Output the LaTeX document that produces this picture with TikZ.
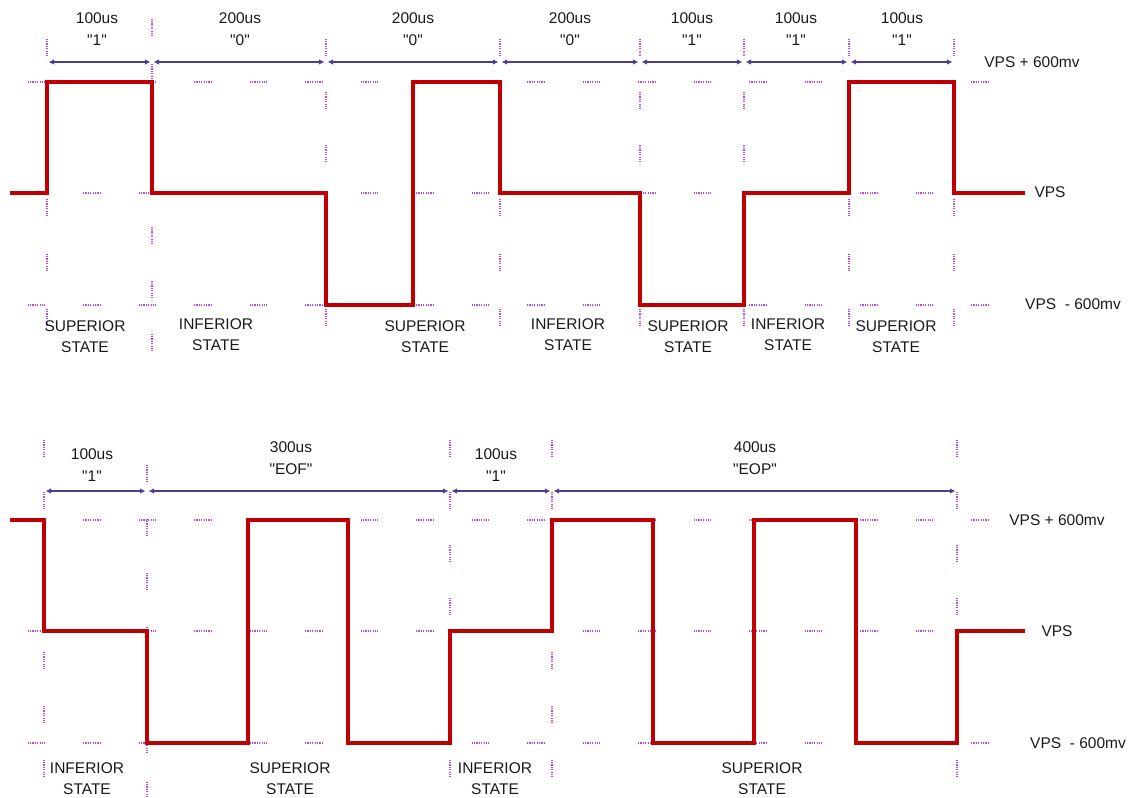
\documentclass[tikz,border=0pt]{standalone}
\usepackage{fontspec}
\newfontfamily\wavefont{Liberation Sans}
\usetikzlibrary{arrows.meta}

\definecolor{sigred}{RGB}{192,0,0}
\definecolor{gridviolet}{RGB}{185,70,230}
\definecolor{dimblue}{RGB}{80,60,145}

\begin{document}
\begin{tikzpicture}[x=1pt, y=-1pt]
        \tikzstyle{griddot}=[gridviolet, line width=1.3pt, dash pattern=on 1.2pt off 1.2pt]
        \tikzstyle{signal}=[sigred, line width=4pt, line join=miter]
        \tikzstyle{dimline}=[dimblue, line width=1.6pt, {Latex[length=5.5pt,width=5.5pt]}-{Latex[length=5.5pt,width=5.5pt]}, shorten <=1.5pt, shorten >=1.5pt]
        \tikzstyle{lbl}=[font=\wavefont\fontsize{15.5}{22}\selectfont, align=center, text=black!90, inner sep=0pt]
        \tikzstyle{state}=[font=\wavefont\fontsize{15.5}{21}\selectfont, align=center, text=black!90, inner sep=0pt]
        \tikzstyle{level}=[font=\wavefont\fontsize{15.5}{17}\selectfont, text=black!90, inner sep=0pt]

        \useasboundingbox (0,0) rectangle (1133,798);

        % grid dots
        \foreach \gy in {82,193,305,520,631,743}
            \foreach \k in {0,...,17}
                \draw[griddot] ({36+55.5*\k-8.5},\gy) -- ({36+55.5*\k+8.5},\gy);
        \foreach \gx in {47,326,500,640,744,849,954}
            \foreach \gy in {47,100,153,207,262,317}
                \draw[griddot] (\gx,\gy-8.5) -- (\gx,\gy+8.5);
        \foreach \gy in {27,72,235,289,342}
            \draw[griddot] (152,\gy-8.5) -- (152,\gy+8.5);
        \foreach \gx in {44,450,552,957}
            \foreach \gy in {448,500,553,606,660,714,768}
                \draw[griddot] (\gx,\gy-8.5) -- (\gx,\gy+8.5);
        \foreach \gy in {473,527,581,635,690,744,790}
            \draw[griddot] (147,\gy-8.5) -- (147,\gy+8.5);

        % waveforms
        \draw[signal] (10,193) -| (47,82) -| (152,193) -| (326,305) -| (413,82) -| (500,193)
            -| (640,305) -| (744,193) -| (849,82) -| (954,193) -- (1025,193);
        \draw[signal] (10,520) -| (44,631) -| (147,743) -| (248,520) -| (348,743) -| (450,631)
            -| (552,520) -| (653,743) -| (754,520) -| (856,743) -| (957,631) -- (1025,631);

        % bit boundaries
        \coordinate (ta) at (47,62);
        \coordinate (tb) at (152,62);
        \coordinate (tc) at (326,62);
        \coordinate (td) at (500,62);
        \coordinate (te) at (640,62);
        \coordinate (tf) at (744,62);
        \coordinate (tg) at (849,62);
        \coordinate (th) at (954,62);
        \coordinate (ba) at (44,491);
        \coordinate (bb) at (147,491);
        \coordinate (bc) at (450,491);
        \coordinate (bd) at (552,491);
        \coordinate (be) at (957,491);

        \draw[dimline] (ta) -- (tb);
        \draw[dimline] (tb) -- (tc);
        \draw[dimline] (tc) -- (td);
        \draw[dimline] (td) -- (te);
        \draw[dimline] (te) -- (tf);
        \draw[dimline] (tf) -- (tg);
        \draw[dimline] (tg) -- (th);
        \draw[dimline] (ba) -- (bb);
        \draw[dimline] (bb) -- (bc);
        \draw[dimline] (bc) -- (bd);
        \draw[dimline] (bd) -- (be);

        % durations
        \node[lbl] (durA) at (97,29) {100us\\"1"};
        \node[lbl] (durB) at (240,29) {200us\\"0"};
        \node[lbl] (durC) at (413,29) {200us\\"0"};
        \node[lbl] (durD) at (570,29) {200us\\"0"};
        \node[lbl] (durE) at (692,29) {100us\\"1"};
        \node[lbl] (durF) at (796,29) {100us\\"1"};
        \node[lbl] (durG) at (902,29) {100us\\"1"};
        \node[lbl] (durH) at (92,465) {100us\\"1"};
        \node[lbl] (durI) at (291,458) {300us\\"EOF"};
        \node[lbl] (durJ) at (496,465) {100us\\"1"};
        \node[lbl] (durK) at (755,458) {400us\\"EOP"};

        % levels
        \node[level] (hiTop) at (1032,62) {VPS + 600mv};
        \node[level] (midTop) at (1050,192) {VPS};
        \node[level] (loTop) at (1073,304) {VPS \ - 600mv};
        \node[level] (hiBot) at (1057,520) {VPS + 600mv};
        \node[level] (midBot) at (1057,631) {VPS};
        \node[level] (loBot) at (1078,743) {VPS \ - 600mv};

        % states
        \node[state] (stA) at (85,337) {SUPERIOR\\STATE};
        \node[state] (stB) at (216,335) {INFERIOR\\STATE};
        \node[state] (stC) at (425,337) {SUPERIOR\\STATE};
        \node[state] (stD) at (568,335) {INFERIOR\\STATE};
        \node[state] (stE) at (688,337) {SUPERIOR\\STATE};
        \node[state] (stF) at (788,335) {INFERIOR\\STATE};
        \node[state] (stG) at (896,337) {SUPERIOR\\STATE};
        \node[state] (stH) at (87,779) {INFERIOR\\STATE};
        \node[state] (stI) at (290,779) {SUPERIOR\\STATE};
        \node[state] (stJ) at (495,779) {INFERIOR\\STATE};
        \node[state] (stK) at (762,779) {SUPERIOR\\STATE};
    \end{tikzpicture}
\end{document}
